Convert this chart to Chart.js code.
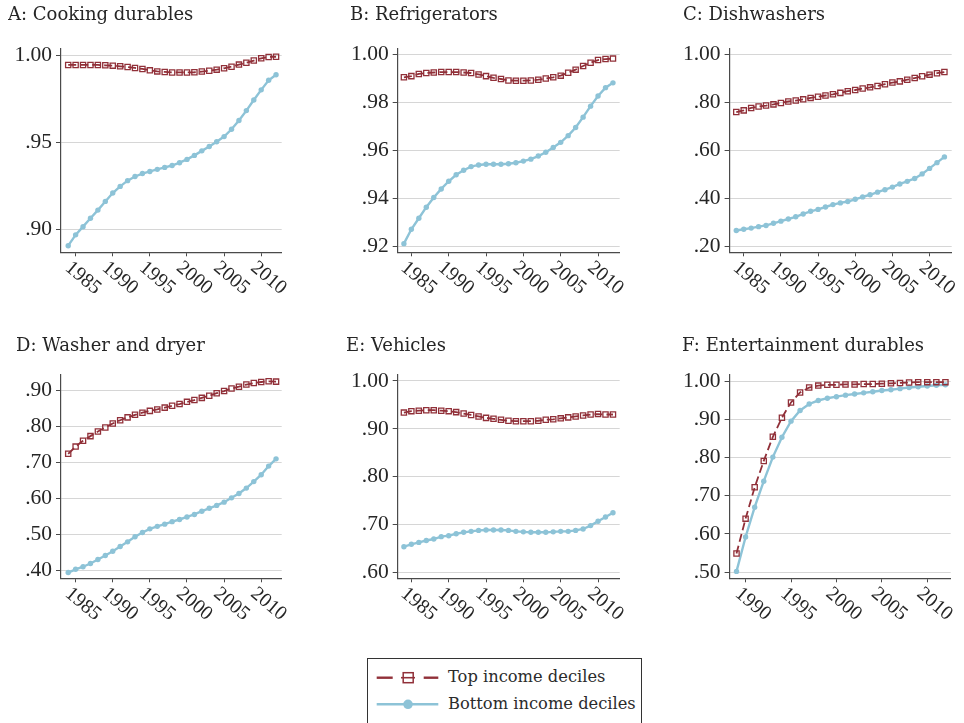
<!DOCTYPE html>
<html>
<head>
<meta charset="utf-8">
<script src="https://cdn.jsdelivr.net/npm/chart.js@4.4.1/dist/chart.umd.min.js"></script>
<style>
  body { margin: 0; background: #fff; }
  #wrap { position: relative; width: 964px; height: 723px; overflow: hidden; background: #fff; }
  .panel { position: absolute; }
  #legend { position: absolute; left: 367px; top: 658px; width: 275px; height: 80px;
            border: 1px solid #333; box-sizing: border-box; }
  #legend svg { position: absolute; left: 0; top: 0; }
  #legend span { position: absolute; left: 80px; font-family: "DejaVu Serif"; font-size: 16.3px;
                 color: #2b2b2b; line-height: 20px; white-space: nowrap; }
</style>
</head>
<body>
<div id="wrap">
  <canvas id="cA" class="panel"></canvas>
  <canvas id="cB" class="panel"></canvas>
  <canvas id="cC" class="panel"></canvas>
  <canvas id="cD" class="panel"></canvas>
  <canvas id="cE" class="panel"></canvas>
  <canvas id="cF" class="panel"></canvas>
  <div id="legend">
    <svg width="275" height="80">
      <line x1="8.7" y1="18.7" x2="24.7" y2="18.7" stroke="#913039" stroke-width="2.4"/>
      <line x1="33" y1="18.7" x2="47" y2="18.7" stroke="#913039" stroke-width="1.6"/>
      <rect x="35.2" y="13.7" width="10" height="10" fill="none" stroke="#913039" stroke-width="1.5"/>
      <line x1="55.7" y1="18.7" x2="70.3" y2="18.7" stroke="#913039" stroke-width="2.4"/>
      <line x1="8.7" y1="45.3" x2="70.3" y2="45.3" stroke="#8DC3D7" stroke-width="2.4"/>
      <circle cx="40" cy="45.3" r="4.8" fill="#8DC3D7"/>
    </svg>
    <span style="top:8px">Top income deciles</span>
    <span style="top:35px">Bottom income deciles</span>
  </div>
</div>
<script>
/* six panels: top vs bottom income deciles, ownership share by year */

const years = [1984, 1985, 1986, 1987, 1988, 1989, 1990, 1991, 1992, 1993, 1994, 1995, 1996, 1997, 1998,
               1999, 2000, 2001, 2002, 2003, 2004, 2005, 2006, 2007, 2008, 2009, 2010, 2011, 2012];
const yearsEnt = [1989, 1990, 1991, 1992, 1993, 1994, 1995, 1996, 1997, 1998, 1999, 2000,
                  2001, 2002, 2003, 2004, 2005, 2006, 2007, 2008, 2009, 2010, 2011, 2012];

const cookingTop = [.9943, .9943, .9943, .9943, .9943, .9941, .9939, .9935, .9931, .9926, .9920, .9912, .9906, .9903, .9900,
                    .9900, .9900, .9901, .9905, .9910, .9916, .9924, .9933, .9945, .9956, .9968, .9981, .9989, .9990];
const cookingBottom = [.8906, .8968, .9015, .9063, .9110, .9160, .9208, .9246, .9279, .9303, .9320, .9332, .9344, .9355, .9366,
                       .9382, .9401, .9424, .9450, .9475, .9502, .9532, .9574, .9624, .9681, .9742, .9800, .9855, .9887];

const fridgeTop = [.9903, .9908, .9917, .9921, .9923, .9925, .9925, .9925, .9923, .9921, .9915, .9908, .9901, .9896, .9890,
                   .9889, .9889, .9890, .9893, .9898, .9903, .9910, .9922, .9935, .9950, .9964, .9975, .9979, .9981];
const fridgeBottom = [.9210, .9270, .9316, .9362, .9402, .9438, .9470, .9497, .9516, .9531, .9538, .9541, .9541, .9541, .9543,
                      .9547, .9554, .9562, .9575, .9591, .9611, .9632, .9660, .9694, .9737, .9783, .9825, .9860, .9880];

const dishTop = [.759, .766, .776, .782, .786, .791, .797, .803, .807, .812, .818, .823, .828, .833, .839,
                 .846, .851, .857, .862, .868, .875, .882, .887, .894, .901, .908, .915, .921, .926];
const dishBottom = [.265, .270, .275, .281, .286, .295, .304, .313, .322, .334, .345, .353, .363, .373, .380,
                    .386, .395, .405, .414, .425, .435, .446, .459, .470, .482, .501, .524, .548, .572];

const washerTop = [.724, .744, .760, .773, .786, .797, .808, .817, .825, .832, .838, .843, .847, .852, .857,
                   .862, .868, .873, .879, .885, .892, .898, .905, .910, .916, .920, .923, .925, .924];
const washerBottom = [.395, .404, .411, .420, .431, .442, .454, .467, .480, .494, .506, .516, .523, .529, .536,
                      .542, .549, .556, .565, .573, .581, .590, .602, .614, .629, .647, .666, .690, .710];

const vehicleTop = [.934, .937, .938, .939, .939, .938, .937, .935, .932, .929, .926, .923, .921, .919, .917,
                    .916, .916, .916, .917, .919, .920, .922, .924, .926, .928, .930, .931, .930, .930];
const vehicleBottom = [.654, .659, .663, .667, .670, .675, .677, .681, .684, .686, .688, .689, .689, .689, .688,
                       .686, .685, .684, .684, .684, .685, .686, .686, .688, .691, .698, .707, .716, .725];

const entTop = [.549, .640, .722, .791, .854, .904, .944, .970, .983, .988, .990, .990,
                .991, .991, .992, .992, .993, .994, .995, .996, .997, .997, .997, .997];
const entBottom = [.502, .592, .670, .738, .801, .853, .895, .923, .940, .949, .955, .959,
                   .963, .966, .969, .972, .975, .977, .980, .983, .985, .987, .989, .990];

const yTicksA = [0.90, 0.95, 1.00];
const yTicksB = [0.92, 0.94, 0.96, 0.98, 1.00];
const yTicksC = [0.20, 0.40, 0.60, 0.80, 1.00];
const yTicksD = [0.40, 0.50, 0.60, 0.70, 0.80, 0.90];
const yTicksE = [0.60, 0.70, 0.80, 0.90, 1.00];
const yTicksF = [0.50, 0.60, 0.70, 0.80, 0.90, 1.00];
const xTicks = [1985, 1990, 1995, 2000, 2005, 2010];
const xTicksEnt = [1990, 1995, 2000, 2005, 2010];

const titles = ['A: Cooking durables', 'B: Refrigerators', 'C: Dishwashers',
                'D: Washer and dryer', 'E: Vehicles', 'F: Entertainment durables'];

const RED = '#913039';
const BLUE = '#8DC3D7';
const AXIS = '#4a4a4a';
const GRID = '#d6d6d6';
const TEXT = '#262626';

// canvas placement and axis ranges (pixels are page coordinates)
const panels = [
  { id: 'cA', x: years, top: cookingTop, bot: cookingBottom, yt: yTicksA, xt: xTicks,
    left: 8, axisX: 61, right: 287, canvasTop: 0, areaTop: 49, areaBottom: 252.3, h: 320,
    xMin: 1983.03, xMax: 2012.76, yMin: 0.8868, yMax: 1.00345, padTop: 5 },
  { id: 'cB', x: years, top: fridgeTop, bot: fridgeBottom, yt: yTicksB, xt: xTicks,
    left: 350, axisX: 397.7, right: 625, canvasTop: 0, areaTop: 49, areaBottom: 252.3, h: 320,
    xMin: 1983.17, xMax: 2012.9, yMin: 0.9174, yMax: 1.0021, padTop: 5 },
  { id: 'cC', x: years, top: dishTop, bot: dishBottom, yt: yTicksC, xt: xTicks,
    left: 682.7, axisX: 729.3, right: 956.7, canvasTop: 0, areaTop: 49, areaBottom: 252.3, h: 320,
    xMin: 1983.1, xMax: 2012.98, yMin: 0.174, yMax: 1.022, padTop: 5 },
  { id: 'cD', x: years, top: washerTop, bot: washerBottom, yt: yTicksD, xt: xTicks,
    left: 16, axisX: 61, right: 287, canvasTop: 330, areaTop: 375, areaBottom: 578.3, h: 316,
    xMin: 1983.03, xMax: 2012.76, yMin: 0.379, yMax: 0.9424, padTop: 5.5 },
  { id: 'cE', x: years, top: vehicleTop, bot: vehicleBottom, yt: yTicksE, xt: xTicks,
    left: 346, axisX: 397.7, right: 625, canvasTop: 330, areaTop: 375, areaBottom: 578.3, h: 316,
    xMin: 1983.17, xMax: 2012.9, yMin: 0.588, yMax: 1.0125, padTop: 5.5 },
  { id: 'cF', x: yearsEnt, top: entTop, bot: entBottom, yt: yTicksF, xt: xTicksEnt,
    left: 681.7, axisX: 729.3, right: 956, canvasTop: 330, areaTop: 375, areaBottom: 578.3, h: 316,
    xMin: 1988.24, xMax: 2012.58, yMin: 0.484, yMax: 1.0157, padTop: 5.5 }
];

function fmtShare(v) {
  const s = v.toFixed(2);
  return s.charAt(0) === '0' ? s.slice(1) : s;
}

// rotated year labels, drawn off the x scale
const yearLabels = {
  id: 'yearLabels',
  afterDraw(chart, args, opts) {
    const sx = chart.scales.x;
    const ctx = chart.ctx;
    ctx.save();
    ctx.font = '20px "Liberation Serif"';
    ctx.fillStyle = TEXT;
    ctx.textAlign = 'left';
    ctx.textBaseline = 'middle';
    opts.ticks.forEach(v => {
      const px = sx.getPixelForValue(v);
      ctx.save();
      ctx.translate(px - 8, chart.chartArea.bottom + 13);
      ctx.rotate(40 * Math.PI / 180);
      ctx.fillText(String(v), 0, 0);
      ctx.restore();
    });
    ctx.restore();
  }
};

function makePanel(p, title) {
  const canvas = document.getElementById(p.id);
  const w = p.right - p.left;
  canvas.width = w;
  canvas.height = p.h;
  canvas.style.left = p.left + 'px';
  canvas.style.top = p.canvasTop + 'px';
  canvas.style.width = w + 'px';
  canvas.style.height = p.h + 'px';
  const titleSize = 18;
  const padBottom = (p.areaTop - p.canvasTop) - p.padTop - titleSize * 1.2;

  new Chart(canvas, {
    type: 'line',
    data: {
      datasets: [
        {
          label: 'Top income deciles',
          data: p.x.map((yr, i) => ({ x: yr, y: p.top[i] })),
          borderColor: RED,
          borderWidth: 1.8,
          borderDash: [8, 4],
          pointStyle: 'rect',
          pointRadius: 3.7,
          pointBorderWidth: 1.3,
          pointBorderColor: RED,
          pointBackgroundColor: 'rgba(255,255,255,0)',
          tension: 0
        },
        {
          label: 'Bottom income deciles',
          data: p.x.map((yr, i) => ({ x: yr, y: p.bot[i] })),
          borderColor: BLUE,
          borderWidth: 2.4,
          pointStyle: 'circle',
          pointRadius: 2.7,
          pointBorderWidth: 0,
          pointBackgroundColor: BLUE,
          tension: 0
        }
      ]
    },
    options: {
      responsive: false,
      animation: false,
      devicePixelRatio: 1,
      layout: { padding: 0 },
      plugins: {
        legend: { display: false },
        tooltip: { enabled: false },
        title: {
          display: true,
          text: title,
          align: 'start',
          color: TEXT,
          font: { family: 'DejaVu Serif', size: titleSize, weight: 'normal' },
          padding: { top: p.padTop, bottom: padBottom }
        },
        yearLabels: { ticks: p.xt }
      },
      scales: {
        x: {
          type: 'linear',
          position: 'bottom',
          min: p.xMin,
          max: p.xMax,
          afterBuildTicks: s => { s.ticks = p.xt.map(v => ({ value: v })); },
          afterFit: s => { s.height = p.h - (p.areaBottom - p.canvasTop); },
          ticks: { display: false },
          grid: { drawOnChartArea: false, drawTicks: true, tickLength: 4, tickColor: AXIS, lineWidth: 1 },
          border: { display: true, color: AXIS, width: 1.2 }
        },
        y: {
          type: 'linear',
          min: p.yMin,
          max: p.yMax,
          afterBuildTicks: s => { s.ticks = p.yt.map(v => ({ value: v })); },
          afterFit: s => { s.width = p.axisX - p.left; },
          ticks: {
            color: TEXT,
            padding: 4,
            font: { family: 'Liberation Serif', size: 21.5 },
            callback: v => fmtShare(v)
          },
          grid: { color: GRID, lineWidth: 1, drawTicks: true, tickLength: 5, tickColor: AXIS },
          border: { display: true, color: AXIS, width: 1.2 }
        }
      }
    },
    plugins: [yearLabels]
  });
}

panels.forEach((p, i) => makePanel(p, titles[i]));
</script>
</body>
</html>
